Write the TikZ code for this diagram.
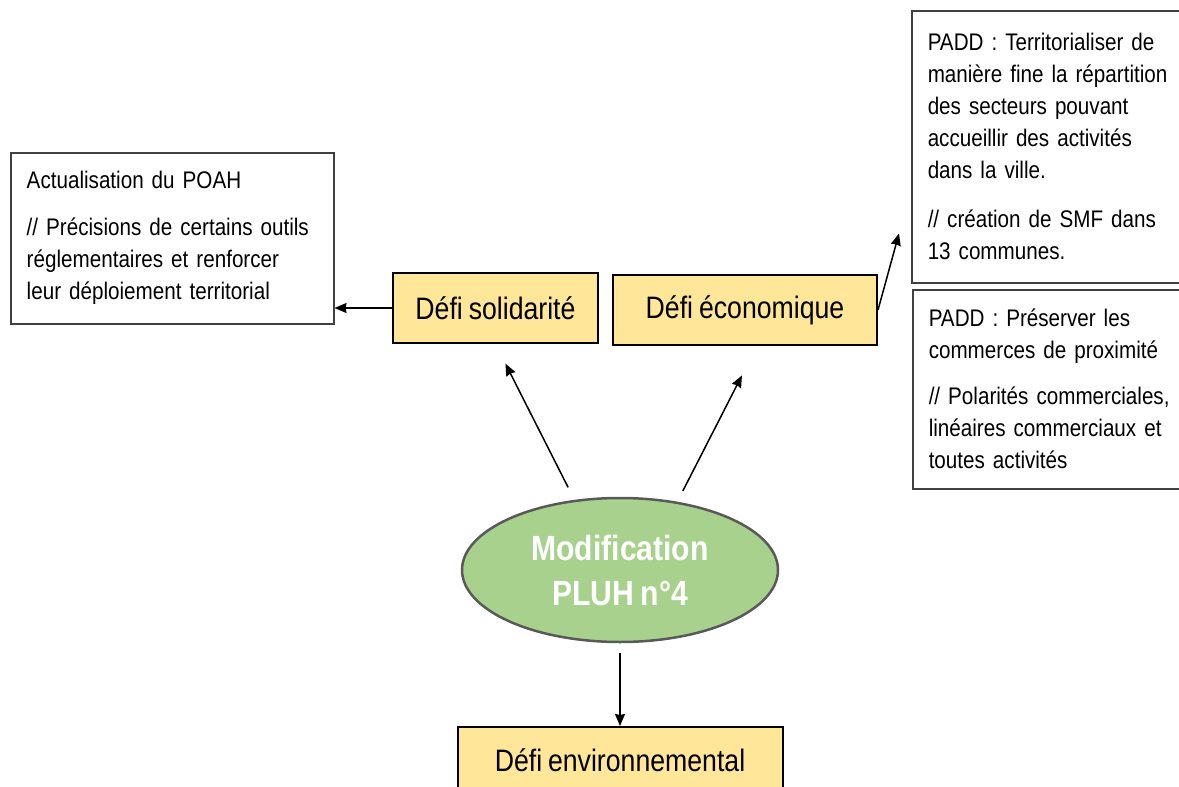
\documentclass[tikz,border=0pt]{standalone}
\usepackage{fontspec}
\setmainfont{Liberation Sans}[FakeStretch=0.86,WordSpace=0.8]
\usepackage{tikz}
\usetikzlibrary{arrows.meta,calc,positioning,shapes.geometric}
\usepackage{xcolor}
\definecolor{defifill}{HTML}{FFE699}
\definecolor{modiffill}{HTML}{A9D18E}
\definecolor{framegray}{HTML}{404040}
\definecolor{ringgray}{HTML}{595959}
\tikzset{
  defibox/.style={draw=black,line width=2pt,fill=defifill,inner sep=0pt,font=\fontsize{31}{36}\selectfont},
  notebox/.style={draw=framegray,line width=1.5pt,fill=white,anchor=north west,align=left,inner xsep=16pt,font=\fontsize{24}{32}\selectfont},
  link/.style={->,line width=1.5pt}
}

\begin{document}
\begin{tikzpicture}[x=1pt,y=-1pt,>={Stealth[length=12pt,width=10pt,inset=1pt]}]
  \useasboundingbox (0,0) rectangle (1179,787);
  \clip (0,0) rectangle (1179,787);
  \node[defibox,minimum width=205pt,minimum height=70pt] (sol) at (495.5,308) {Défi solidarité};
  \node[defibox,minimum width=264pt,minimum height=70pt] (eco) at (745,310) {Défi économique};
  \node[defibox,minimum width=325pt,minimum height=66pt] (env) at (620,760) {Défi environnemental};
  \node[ellipse,draw=ringgray,line width=2.5pt,fill=modiffill,minimum width=316pt,minimum height=144pt,inner sep=0pt,
        align=center,text=white,font=\bfseries\fontsize{35}{45}\selectfont] (modif) at (620,570) {Modification\\PLUH n°4};
  \node[notebox,text width=291pt,minimum height=171pt] (poah) at (10,152)
    {Actualisation du POAH\\[15pt]// Précisions de certains outils\\réglementaires et renforcer\\leur déploiement territorial};
  \node[notebox,text width=268pt,minimum height=272pt] (padda) at (911,10)
    {PADD : Territorialiser de\\manière fine la répartition\\des secteurs pouvant\\accueillir des activités\\dans la ville.\\[17pt]// création de SMF dans\\13 communes.};
  \node[notebox,text width=268pt,minimum height=199pt] (paddb) at (912,289)
    {PADD : Préserver les\\commerces de proximité\\[14pt]// Polarités commerciales,\\linéaires commerciaux et\\toutes activités};
  \draw[link] (sol.west) -- (sol.west -| poah.east);
  \draw[link] (eco.east) -- ([xshift=-12pt,yshift=50pt]padda.south west);
  \draw[link,shorten <=14pt,shorten >=22pt] (modif.123) -- (sol.south);
  \draw[link,shorten <=12pt,shorten >=33pt] (modif.50) -- ([xshift=12pt]eco.south);
  \draw[link,shorten <=10pt] (modif.south) -- (env.north);
\end{tikzpicture}
\end{document}
